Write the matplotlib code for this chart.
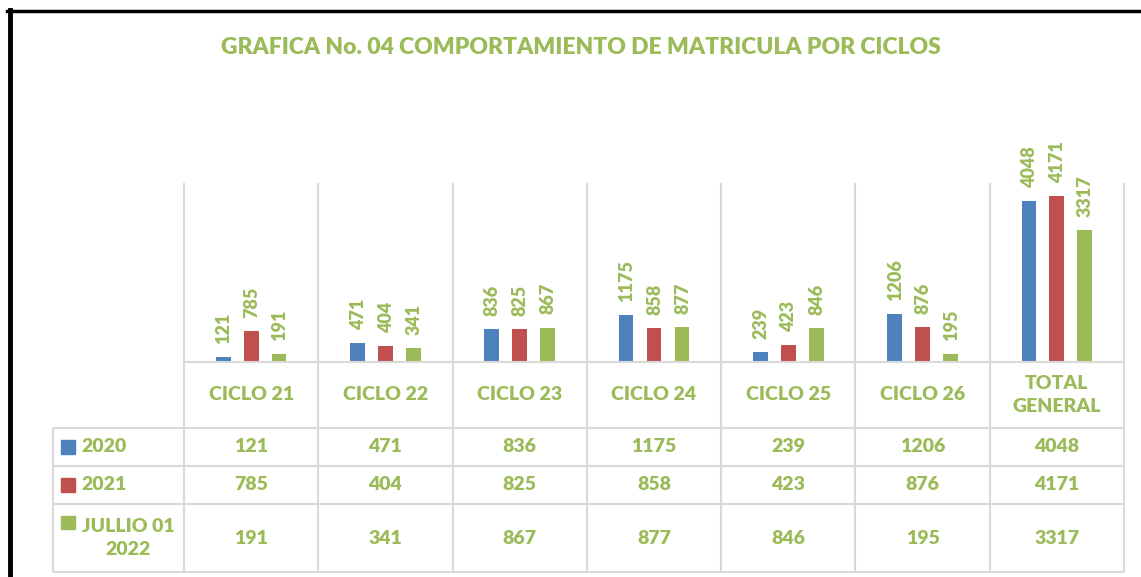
import matplotlib.pyplot as plt
import numpy as np
from matplotlib.lines import Line2D
from matplotlib.patches import Rectangle

plt.rcParams['font.family'] = ['Lato', 'DejaVu Sans']

# datos
categorias = ['CICLO 21', 'CICLO 22', 'CICLO 23', 'CICLO 24', 'CICLO 25', 'CICLO 26', 'TOTAL\nGENERAL']
series = ['2020', '2021', 'JULLIO 01\n2022']
v2020 = [121, 471, 836, 1175, 239, 1206, 4048]
v2021 = [785, 404, 825, 858, 423, 876, 4171]
v2022 = [191, 341, 867, 877, 846, 195, 3317]
valores = [v2020, v2021, v2022]
colores = ['#4F81BD', '#C0504D', '#9BBB59']
VERDE = '#9BBB59'
GRIS = '#D9D9D9'
PESO = 'heavy'

W, H = 1141, 577


def caja(x0, y0, x1, y1):
    return [x0 / W, 1 - y1 / H, (x1 - x0) / W, (y1 - y0) / H]


fig = plt.figure(figsize=(W / 100, H / 100), dpi=100)

fig.text(581 / W, 1 - 47 / H, 'GRAFICA No. 04 COMPORTAMIENTO DE MATRICULA POR CICLOS',
         ha='center', va='center', fontsize=16.5, fontweight=PESO, color=VERDE)

# marco negro
fig.add_artist(Line2D([7 / W, 1], [1 - 11 / H, 1 - 11 / H], lw=2.5, color='black'))
fig.add_artist(Line2D([9.5 / W, 9.5 / W], [1 - 9.5 / H, 0], lw=3.5, color='black'))

# barras
n = len(categorias)
ax = fig.add_axes(caja(184, 183, 1124, 362))
ax.set_xlim(0, n)
ax.set_ylim(0, 4500)
ax.axis('off')
ax.vlines(np.arange(n + 1), 0, 4500, color=GRIS, lw=1.5, clip_on=False)

x = np.arange(n) + 0.5
for i, (vals, col) in enumerate(zip(valores, colores)):
    xs = x + (i - 1) * 0.208
    ax.bar(xs, vals, width=0.11, color=col)
    for xi, v in zip(xs, vals):
        ax.annotate(str(v), (xi, v), xytext=(0.5, 9.5), textcoords='offset points',
                    rotation=90, ha='center', va='bottom', fontsize=13,
                    fontweight=PESO, color=VERDE)

# tabla
unidad = 940 / n
w = (184 - 53) / unidad
tab = fig.add_axes(caja(53, 362, 1124, 572))
tab.set_xlim(-w, n)
tab.set_ylim(210, 0)
tab.axis('off')

tab.vlines(np.arange(n + 1), 0, 210, color=GRIS, lw=1.5, clip_on=False)
tab.vlines([-w], 66, 210, color=GRIS, lw=1.5, clip_on=False)
tab.hlines([0], 0, n, color=GRIS, lw=1.5, clip_on=False)
tab.hlines([66, 104, 142, 210], -w, n, color=GRIS, lw=1.5, clip_on=False)

for xi, c in zip(x, categorias):
    tab.text(xi, 33, c, ha='center', va='center', fontsize=14, fontweight=PESO,
             color=VERDE, linespacing=1.4)

filas = [85, 123, 176]
for fila, nombre, vals, col in zip(filas, series, valores, colores):
    for xi, v in zip(x, vals):
        tab.text(xi, fila, str(v), ha='center', va='center', fontsize=14,
                 fontweight=PESO, color=VERDE)
    if '\n' in nombre:
        tab.add_patch(Rectangle(((61 - 184) / unidad, fila - 22), 14 / unidad, 13,
                                color=col, clip_on=False))
        tab.text((128 - 184) / unidad, fila, nombre, ha='center', va='center',
                 fontsize=14, fontweight=PESO, color=VERDE, linespacing=1.45)
    else:
        tab.add_patch(Rectangle(((61 - 184) / unidad, fila - 7.5), 14 / unidad, 14,
                                color=col, clip_on=False))
        tab.text((81 - 184) / unidad, fila, nombre, ha='left', va='center',
                 fontsize=14, fontweight=PESO, color=VERDE)

fig.savefig('out.png', dpi=100)
